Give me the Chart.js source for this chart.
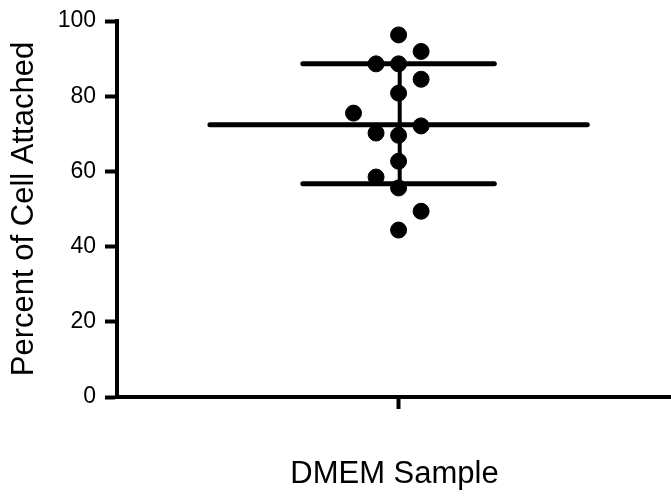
<!DOCTYPE html>
<html>
<head>
<meta charset="utf-8">
<script src="https://cdn.jsdelivr.net/npm/chart.js@4"></script>
<style>
  html,body{margin:0;padding:0;background:#fff;overflow:hidden;}
  #wrap{width:671px;height:498px;overflow:hidden;}
</style>
</head>
<body>
<div id="wrap"><canvas id="dotPlot" width="681" height="498"></canvas></div>
<script>
// values
const categoryName = 'DMEM Sample';
const attached = [96.3, 91.9, 88.6, 88.6, 84.5, 80.8, 75.5, 72.1, 70.2, 69.6, 62.7, 58.5, 55.6, 49.4, 44.4];
// horizontal slot of each dot (scatter jitter), -2..1
const slot = [0, 1, -1, 0, 1, 0, -2, 1, -1, 0, 0, -1, 0, 1, 0];
const meanVal = [72.4];
const sdRange = [56.7, 88.6];
const yTicks = [0, 20, 40, 60, 80, 100];

const slotWidth = 0.08;
const meanHalf = 0.67, sdHalf = 0.34;

window.addEventListener('load', ()=>{
  const ctx = document.getElementById('dotPlot');
  const black = '#000';
  const font = '"Liberation Sans", Arial, sans-serif';
  const lineDs = (pts, w) => ({type:'line', data:pts, borderColor:black, borderWidth:w,
    borderCapStyle:'round', pointRadius:0, fill:false, tension:0, showLine:true});
  const noPad = (s)=>{ s.paddingLeft=0; s.paddingRight=0; s.paddingTop=0; s.paddingBottom=0; };

  new Chart(ctx, {
    type:'scatter',
    data:{
      datasets:[
        lineDs([{x:-meanHalf,y:meanVal[0]},{x:meanHalf,y:meanVal[0]}], 5),
        lineDs([{x:-sdHalf,y:sdRange[1]},{x:sdHalf,y:sdRange[1]}], 5),
        lineDs([{x:-sdHalf,y:sdRange[0]},{x:sdHalf,y:sdRange[0]}], 5),
        lineDs([{x:0.004,y:sdRange[0]},{x:0.004,y:sdRange[1]}], 4),
        {data:attached.map((v,i)=>({x:slot[i]*slotWidth, y:v})),
         backgroundColor:black, borderColor:black, pointRadius:8, pointHoverRadius:8}
      ]
    },
    options:{
      responsive:false, animation:false,
      layout:{padding:{top:21,right:0,left:0,bottom:0}},
      plugins:{legend:{display:false}, tooltip:{enabled:false}},
      scales:{
        x:{
          type:'linear', min:-1, max:0.971,
          afterBuildTicks:(s)=>{ s.ticks=[{value:0}]; },
          afterFit:(s)=>{ s.height = 101; noPad(s); },
          ticks:{display:false},
          grid:{drawOnChartArea:false, drawTicks:true, tickLength:12, tickWidth:4, tickColor:black},
          border:{color:black, width:4},
          title:{display:true, text:categoryName, color:black,
                 font:{family:font, size:31},
                 padding:{top:0,bottom:5}}
        },
        y:{
          min:0, max:100,
          afterBuildTicks:(s)=>{ s.ticks = yTicks.map(v=>({value:v})); },
          afterFit:(s)=>{ s.width = 117; noPad(s); },
          ticks:{color:black, padding:9, font:{family:font, size:23}},
          grid:{drawOnChartArea:false, drawTicks:true, tickLength:12, tickWidth:4, tickColor:black},
          border:{color:black, width:4},
          title:{display:true, text:'Percent of Cell Attached', color:black,
                 font:{family:font, size:31},
                 padding:{top:6,bottom:0}}
        }
      }
    }
  });
});
</script>
</body>
</html>
